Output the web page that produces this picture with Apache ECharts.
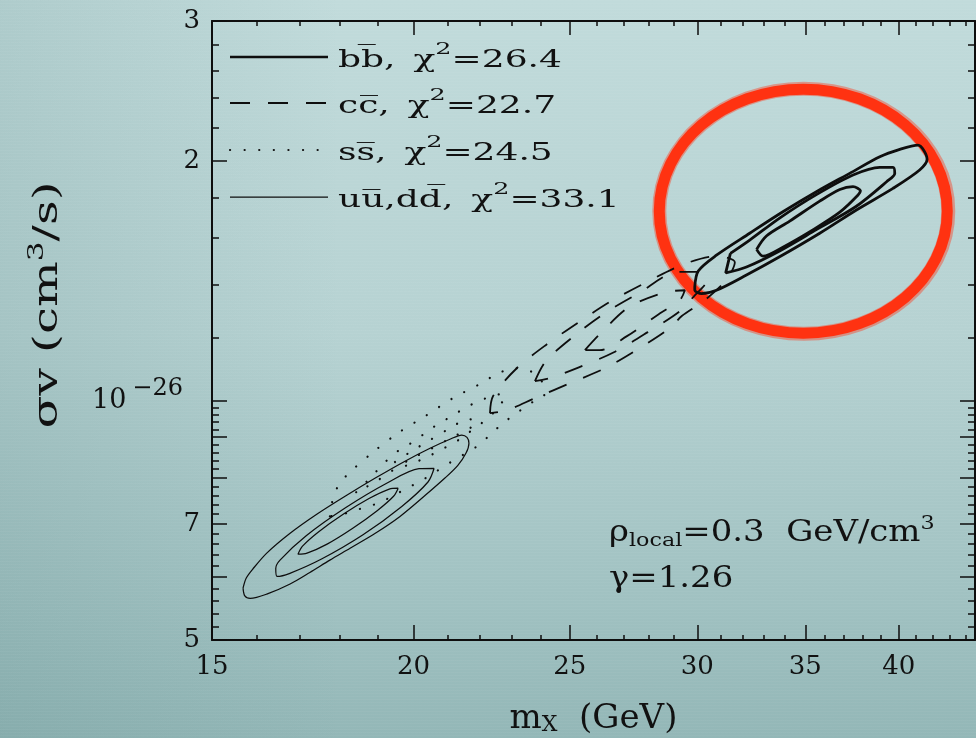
<!DOCTYPE html>
<html>
<head>
<meta charset="utf-8">
<script src="https://cdn.jsdelivr.net/npm/echarts@6/dist/echarts.min.js"></script>
<style>
  html, body { margin: 0; padding: 0; }
  #stage {
    position: relative; width: 976px; height: 738px; overflow: hidden;
    background:
      repeating-linear-gradient(180deg, rgba(255,255,255,0.035) 0px, rgba(255,255,255,0.035) 1px, rgba(0,0,0,0) 1px, rgba(0,0,0,0) 3px),
      linear-gradient(90deg, rgba(60,110,110,0.14) 0%, rgba(60,110,110,0) 35%),
      linear-gradient(180deg, #c1dbdb 0%, #b6d2d2 45%, #a1c2c2 80%, #93b7b7 100%);
  }
  #chart { position: absolute; left: 0; top: 0; width: 976px; height: 738px; }
</style>
</head>
<body>
<div id="stage"><div id="chart"></div></div>
<script>
// ---- axes: mass in GeV (log), sigma*v in units of 1e-27 cm^3/s (log) ----
const X_RANGE = [15, 44.6];
const Y_RANGE = [5, 30];
const xMajorTicks = [15, 20, 25, 30, 35, 40];
const xMinorTicks = [16, 17, 18, 19, 21, 22, 23, 24, 26, 27, 28, 29, 31, 32, 33, 34, 36, 37, 38, 39, 41, 42, 43, 44];
const yMajorTicks = [5, 6, 7, 8, 9, 10, 20, 30];
const yMinorTicks = [5.2, 5.4, 5.6, 5.8, 6.2, 6.4, 6.6, 6.8, 7.2, 7.4, 7.6, 7.8, 8.2, 8.4, 8.6, 8.8,
                     9.2, 9.4, 9.6, 9.8, 12, 14, 16, 18, 22, 24, 26, 28];
const yLabelValues = [5, 7, 10, 20, 30];
const yLabelTexts = ['5', '7', '{m|10}{e|\u221226}', '2', '3'];

// ---- confidence contours [m_X (GeV), sigma v (1e-27 cm^3/s)] ----
const bbInner = [[32.65,15.49],[33.11,16.10],[34.23,16.81],[35.73,17.81],[36.77,18.42],[37.47,18.57],[37.87,18.35],[37.74,18.13],[36.77,17.25],[35.40,16.40],[33.90,15.59],[32.95,15.19]];
const bbMid = [[31.45,15.31],[32.33,15.91],[33.74,16.96],[35.56,18.15],[37.47,19.21],[38.93,19.64],[39.67,19.64],[39.77,19.30],[39.31,18.84],[37.65,17.55],[35.56,16.40],[33.74,15.42],[32.18,14.72],[31.24,14.47]];
const bbOuter = [[29.89,13.90],[30.04,14.55],[30.83,15.23],[32.33,16.23],[33.90,17.27],[35.56,18.30],[37.29,19.30],[38.93,20.25],[40.06,20.69],[41.11,20.95],[41.65,20.10],[41.21,19.49],[39.67,18.48],[37.65,17.36],[35.73,16.23],[33.74,15.16],[32.18,14.38],[30.83,13.76],[30.18,13.63],[29.89,13.76]];

const ccInner = [[25.55,11.57],[26.10,12.12],[27.20,13.10],[28.64,13.68],[29.47,13.76],[29.26,13.37],[28.39,12.84],[27.13,12.05],[26.10,11.57]];
const ccMid = [[23.79,10.58],[24.16,11.21],[25.15,12.05],[26.29,12.88],[27.59,13.64],[29.18,14.51],[30.10,14.51],[30.41,14.17],[29.89,13.56],[29.26,12.95],[27.95,12.19],[26.63,11.50],[25.33,11.01],[24.30,10.67]];
const ccOuter = [[22.31,9.64],[22.41,10.13],[23.18,10.98],[24.20,11.77],[25.33,12.55],[26.52,13.33],[27.83,14.05],[29.43,14.84],[30.85,15.19],[31.65,14.92],[31.33,14.25],[30.32,13.37],[29.34,12.77],[28.84,12.33],[27.55,11.60],[26.29,10.98],[24.94,10.49],[23.79,10.07],[22.85,9.72]];

const ssInner = [[19.48,8.37],[19.90,8.61],[20.48,8.92],[21.07,9.23],[21.62,9.47],[21.87,9.45],[21.68,9.23],[21.13,8.99],[20.54,8.71],[19.96,8.46],[19.54,8.29]];
const ssMid = [[18.43,7.67],[18.80,7.99],[19.21,8.37],[19.59,8.66],[19.93,8.84],[20.34,9.10],[20.71,9.34],[21.13,9.56],[21.56,9.81],[22.05,10.01],[22.47,10.18],[22.82,10.13],[22.63,9.87],[22.41,9.64],[22.05,9.37],[21.62,9.10],[21.22,8.86],[20.77,8.66],[20.39,8.49],[19.93,8.32],[19.42,8.17],[18.94,7.90]];
const ssOuter = [[17.75,7.15],[17.80,7.43],[17.93,7.76],[18.19,8.06],[18.85,8.59],[19.56,9.10],[20.34,9.56],[21.16,10.07],[22.05,10.52],[22.53,10.80],[23.12,10.98],[23.69,10.86],[24.13,10.36],[24.06,10.07],[23.62,9.92],[23.18,9.64],[22.73,9.37],[22.31,9.05],[21.90,8.76],[21.46,8.54],[21.04,8.34],[20.63,8.13],[20.25,7.94],[19.82,7.76],[19.40,7.58],[19.02,7.43],[18.58,7.32],[18.19,7.22]];

const uuInner = [[19.57,7.76],[19.44,7.58],[18.99,7.27],[18.34,6.91],[17.68,6.60],[17.18,6.43],[16.96,6.41],[17.07,6.56],[17.47,6.84],[18.10,7.20],[18.77,7.53],[19.32,7.74]];
const uuMid = [[20.60,8.22],[20.42,7.90],[19.67,7.36],[18.61,6.78],[17.54,6.32],[16.75,6.06],[16.46,6.01],[16.43,6.15],[16.53,6.30],[17.16,6.76],[18.15,7.33],[19.25,7.87],[20.16,8.21]];
const uuOuter = [[15.68,5.81],[15.75,5.98],[15.91,6.15],[16.22,6.43],[16.77,6.81],[17.43,7.20],[18.14,7.58],[18.94,7.99],[19.76,8.39],[20.48,8.71],[21.07,8.94],[21.43,9.05],[21.59,8.99],[21.65,8.84],[21.56,8.59],[21.31,8.29],[20.92,7.99],[20.34,7.60],[19.62,7.15],[18.94,6.81],[18.27,6.52],[17.75,6.30],[17.25,6.08],[16.77,5.88],[16.22,5.71],[15.84,5.64],[15.72,5.68]];

// ---- legend entries ----
const channelLabels = ['bb\u0305', 'cc\u0305', 'ss\u0305', 'uu\u0305,dd\u0305'];
const channelChi2 = ['26.4', '22.7', '24.5', '33.1'];

// highlighted best-fit region (centre in data units)
const ringCenter = [34.9, 17.3];

const FONT = '"DejaVu Serif", "Liberation Serif", serif';
const INK = '#0e0e0e';

const styles = {
  bb: { color: INK, width: 2.8, type: 'solid' },
  cc: { color: INK, width: 1.8, type: [19, 18] },
  ss: { color: INK, width: 2.2, type: [0.1, 14.5], cap: 'round' },
  uu: { color: INK, width: 1.25, type: 'solid' }
};

function contour(name, pts, style) {
  return {
    type: 'line', name: name, data: pts.concat([pts[0]]),
    xAxisIndex: 0, yAxisIndex: 0,
    showSymbol: false, symbol: 'none', smooth: 0.3, silent: true,
    lineStyle: style, z: 3
  };
}

const tickStyle = { color: INK, width: 1.5 };
function logX(extra) {
  return Object.assign({
    type: 'log', logBase: 10, min: X_RANGE[0], max: X_RANGE[1],
    splitLine: { show: false }, axisLine: { show: false },
    axisLabel: { show: false }, axisTick: { show: false }
  }, extra);
}
function logY(extra) {
  return Object.assign({
    type: 'log', logBase: 10, min: Y_RANGE[0], max: Y_RANGE[1],
    splitLine: { show: false }, axisLine: { show: false },
    axisLabel: { show: false }, axisTick: { show: false }
  }, extra);
}

const option = {
  animation: false,
  backgroundColor: 'transparent',
  grid: { left: 212, top: 21, right: 1, bottom: 98, containLabel: false, outerBoundsMode: 'none' },
  xAxis: [
    logX({
      position: 'bottom',
      axisLine: { show: true, lineStyle: { color: INK, width: 2 } },
      axisTick: { show: true, inside: true, length: 15, customValues: xMajorTicks, lineStyle: tickStyle },
      axisLabel: { show: true, customValues: xMajorTicks, margin: 14, fontFamily: FONT, fontSize: 26, color: '#111' },
      name: '{n|m}{sub|X}{n|  (GeV)}',
      nameLocation: 'middle', nameGap: 62,
      nameTextStyle: {
        fontFamily: FONT, color: '#111',
        rich: {
          n: { fontFamily: FONT, fontSize: 34, lineHeight: 34, color: '#111' },
          sub: { fontFamily: FONT, fontSize: 22, lineHeight: 20, verticalAlign: 'bottom', color: '#111' }
        }
      }
    }),
    logX({ position: 'bottom', axisTick: { show: true, inside: true, length: 5, customValues: xMinorTicks, lineStyle: tickStyle } }),
    logX({ position: 'top', axisLine: { show: true, lineStyle: { color: INK, width: 2 } },
           axisTick: { show: true, inside: true, length: 14, customValues: xMajorTicks, lineStyle: tickStyle } }),
    logX({ position: 'top', axisTick: { show: true, inside: true, length: 5, customValues: xMinorTicks, lineStyle: tickStyle } })
  ],
  yAxis: [
    logY({
      position: 'left',
      axisLine: { show: true, lineStyle: { color: INK, width: 2 } },
      axisTick: { show: true, inside: true, length: 15, customValues: yMajorTicks, lineStyle: tickStyle },
      axisLabel: {
        show: true, customValues: yLabelValues, margin: 12,
        fontFamily: FONT, fontSize: 26, color: '#111',
        formatter: function (v) {
          for (let i = 0; i < yLabelValues.length; i++) {
            if (Math.abs(yLabelValues[i] - v) < 1e-6 * yLabelValues[i]) return yLabelTexts[i];
          }
          return '';
        },
        rich: {
          m: { fontFamily: FONT, fontSize: 27, lineHeight: 48, color: '#111' },
          e: { fontFamily: FONT, fontSize: 24, lineHeight: 24, verticalAlign: 'top', color: '#111', padding: [0, 17, 0, 6] }
        }
      }
    }),
    logY({ position: 'left', axisTick: { show: true, inside: true, length: 7, customValues: yMinorTicks, lineStyle: tickStyle } }),
    logY({ position: 'right', axisLine: { show: true, lineStyle: { color: INK, width: 2 } },
           axisTick: { show: true, inside: true, length: 15, customValues: yMajorTicks, lineStyle: tickStyle } }),
    logY({ position: 'right', axisTick: { show: true, inside: true, length: 7, customValues: yMinorTicks, lineStyle: tickStyle } })
  ],
  series: [
    contour('bb 3', bbOuter, styles.bb), contour('bb 2', bbMid, styles.bb), contour('bb 1', bbInner, styles.bb),
    contour('cc 3', ccOuter, styles.cc), contour('cc 2', ccMid, styles.cc), contour('cc 1', ccInner, styles.cc),
    contour('ss 3', ssOuter, styles.ss), contour('ss 2', ssMid, styles.ss), contour('ss 1', ssInner, styles.ss),
    contour('uu 3', uuOuter, styles.uu), contour('uu 2', uuMid, styles.uu), contour('uu 1', uuInner, styles.uu)
  ]
};

const chart = echarts.init(document.getElementById('chart'), null, { renderer: 'canvas' });
chart.setOption(option);

// ---- overlay: legend, annotation, y title and the hand-drawn highlight ring ----
const legendStyles = [
  { lineWidth: 2.5, lineDash: null },
  { lineWidth: 1.8, lineDash: [20, 18] },
  { lineWidth: 2.2, lineDash: [0.1, 14.5], lineCap: 'round' },
  { lineWidth: 1.25, lineDash: null }
];
const legendRowY = [57, 103, 150, 197];

const graphics = [];
const c = chart.convertToPixel({ xAxisIndex: 0, yAxisIndex: 0 }, ringCenter);
graphics.push({
  type: 'ellipse', z: 1, silent: true,
  shape: { cx: c[0], cy: c[1], rx: 144, ry: 122 },
  style: { fill: null, stroke: '#ff3210', lineWidth: 11 }
});
graphics.push({
  type: 'ellipse', z: 1, silent: true,
  shape: { cx: c[0] + 0.5, cy: c[1], rx: 144.5, ry: 122.5 },
  style: { fill: null, stroke: 'rgba(255,50,20,0.4)', lineWidth: 14 }
});

for (let i = 0; i < channelLabels.length; i++) {
  const y = legendRowY[i];
  const ls = legendStyles[i];
  graphics.push({
    type: 'line', z: 10, silent: true,
    shape: { x1: 230, y1: y, x2: 328, y2: y },
    style: { stroke: INK, lineWidth: ls.lineWidth, lineDash: ls.lineDash, lineCap: ls.lineCap || 'butt' }
  });
  graphics.push({
    type: 'text', z: 10, silent: true, x: 338, y: y + 4, scaleX: 1.5,
    style: {
      text: '{t|' + channelLabels[i] + ',\u2002\u03c7}{s|2}{t|=' + channelChi2[i] + '}',
      verticalAlign: 'middle', align: 'left',
      rich: {
        t: { fontFamily: FONT, fontSize: 24, lineHeight: 40, fill: '#111' },
        s: { fontFamily: FONT, fontSize: 17, lineHeight: 13, verticalAlign: 'top', fill: '#111' }
      }
    }
  });
}

graphics.push({
  type: 'text', z: 10, silent: true, x: 609, y: 533, scaleX: 1.17,
  style: {
    text: '{t|\u03c1}{sub|local}{t|=0.3  GeV/cm}{sup|3}',
    verticalAlign: 'middle', align: 'left',
    rich: {
      t: { fontFamily: FONT, fontSize: 29, lineHeight: 36, fill: '#111' },
      sub: { fontFamily: FONT, fontSize: 19, lineHeight: 19, verticalAlign: 'bottom', fill: '#111' },
      sup: { fontFamily: FONT, fontSize: 19, lineHeight: 14, verticalAlign: 'top', fill: '#111' }
    }
  }
});
graphics.push({
  type: 'text', z: 10, silent: true, x: 609, y: 579, scaleX: 1.17,
  style: {
    text: '\u03b3=1.26', verticalAlign: 'middle', align: 'left',
    fontFamily: FONT, fontSize: 29, fill: '#111'
  }
});

// vertical axis title
graphics.push({
  type: 'text', z: 10, silent: true, x: 48, y: 305, rotation: Math.PI / 2, scaleX: 1.42,
  style: {
    text: '{n|\u03c3v (cm}{sup|3}{n|/s)}', align: 'center', verticalAlign: 'middle',
    rich: {
      n: { fontFamily: FONT, fontSize: 34, lineHeight: 44, fill: '#111' },
      sup: { fontFamily: FONT, fontSize: 22, lineHeight: 22, verticalAlign: 'top', fill: '#111' }
    }
  }
});

chart.setOption({ graphic: graphics });
</script>
</body>
</html>
